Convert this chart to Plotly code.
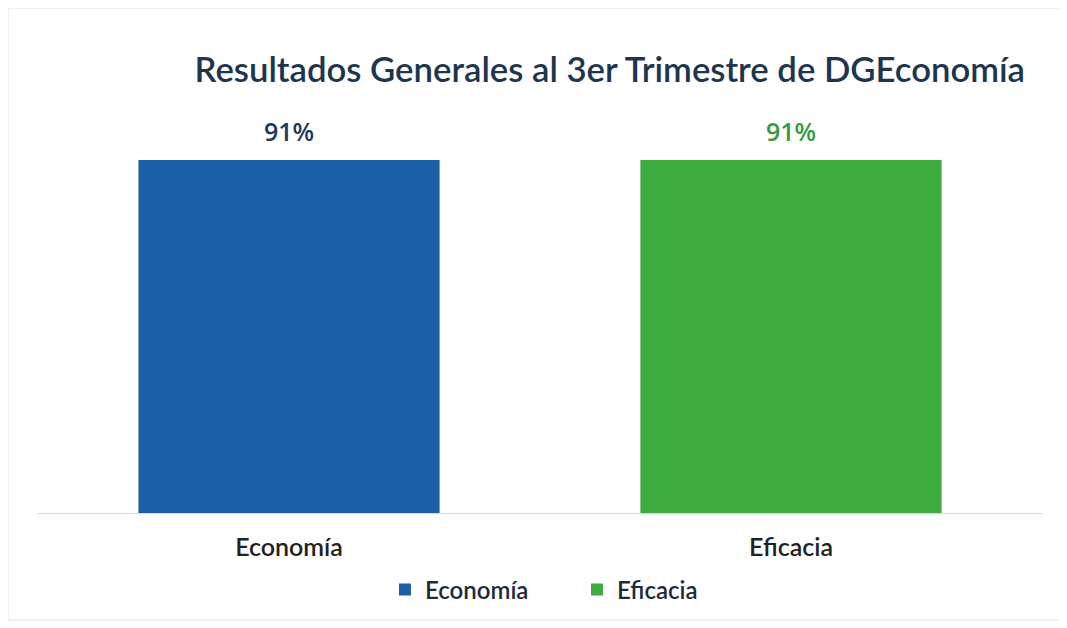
import plotly.graph_objects as go

categories = ["Economía", "Eficacia"]
values = [91, 91]
bar_colors = ["#1c5fa6", "#3eab3f"]
label_colors = ["#1e3a5a", "#3a9a3a"]
title_text = "Resultados Generales al 3er Trimestre de DGEconomía"

fig = go.Figure()
for cat, val, bc in zip(categories, values, bar_colors):
    fig.add_trace(go.Bar(
        x=[cat], y=[val], name=cat,
        marker=dict(color=bc, line=dict(width=0)),
        width=0.6,
    ))
for cat, val, lc in zip(categories, values, label_colors):
    fig.add_annotation(x=cat, y=val, text=f"{val}%", showarrow=False,
                       yanchor="bottom", yshift=10,
                       font=dict(family="Open Sans", size=25, color=lc, weight=600))

fig.update_layout(
    width=1067, height=628,
    paper_bgcolor="white", plot_bgcolor="white",
    barmode="overlay",
    margin=dict(l=30, r=33, t=117, b=123),
    title=dict(text=title_text, x=0.564, xanchor="center",
               y=0.901, yanchor="middle",
               font=dict(family="Lato", size=34.7, color="#1e3550", weight=600)),
    xaxis=dict(showline=True, linecolor="#d9d9d9", linewidth=1,
               tickfont=dict(family="Lato", size=25, color="#222222", weight=600),
               ticks="", showgrid=False, ticklabelstandoff=12),
    yaxis=dict(range=[0, 100], visible=False, showgrid=False),
    legend=dict(orientation="h", x=0.3456, xanchor="left", y=-0.198, yanchor="middle",
                font=dict(family="Lato", size=24, color="#1e2a3a", weight=600),
                itemsizing="constant", traceorder="normal", itemwidth=30,
                entrywidth=147, entrywidthmode="pixels"),
    showlegend=True,
)
fig.add_shape(type="rect", xref="paper", yref="paper",
              x0=-0.0299, x1=1.018, y0=-0.276, y1=1.3015,
              line=dict(color="#e3e3e3", width=1))

fig.write_html("out.html")
